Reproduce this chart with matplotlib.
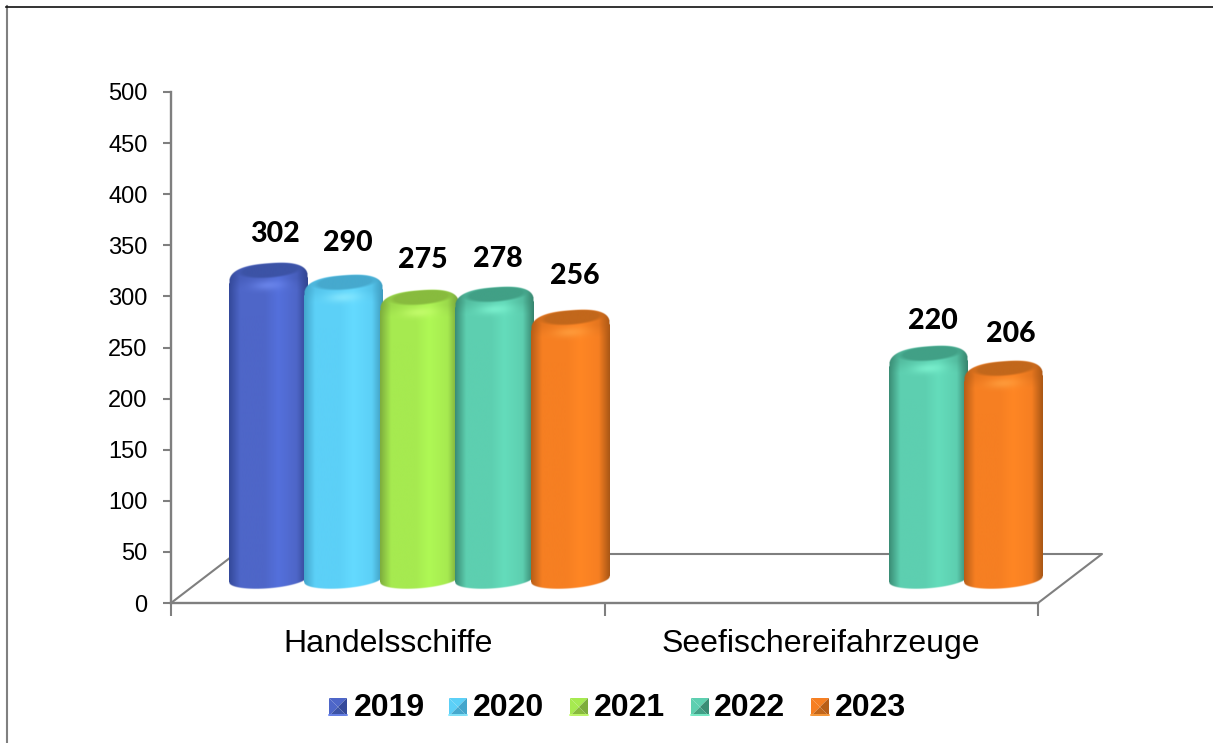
import numpy as np
import matplotlib
matplotlib.use("Agg")
import matplotlib.pyplot as plt
from matplotlib.patches import Polygon

W, H = 1213, 743

categories = ["Handelsschiffe", "Seefischereifahrzeuge"]
years = ["2019", "2020", "2021", "2022", "2023"]
v2019 = [302, None]
v2020 = [290, None]
v2021 = [275, None]
v2022 = [278, 220]
v2023 = [256, 206]
series = [v2019, v2020, v2021, v2022, v2023]
yticks = [0, 50, 100, 150, 200, 250, 300, 350, 400, 450, 500]

# dark edge, middle, bright, cap, highlight
colors = [
    ["#34499a", "#4e66c8", "#5470dc", "#3c53a6", "#6f8af0"],
    ["#43a6cc", "#5cd0f7", "#64daff", "#46a9ce", "#8ceaff"],
    ["#7dad3d", "#a6ea50", "#aff855", "#88bb3e", "#c8ff70"],
    ["#3a8d75", "#5dcfb0", "#64dcbb", "#41a086", "#7ff5d2"],
    ["#b85e17", "#f67f22", "#ff8624", "#c2671b", "#ffa040"],
]

# label shifts (x in axis units, y in values)
label_dx = [[0.017, None], [0.010, None], [0.009, None], [0.009, 0.012], [0.011, 0.017]]
label_dy = [[59, None], [62, None], [61, None], [59, 56], [64, 57]]

bar_w = 0.18
bar_step = 0.174
group_shift = 0.0715
sx = 867 / 2
sy = 511 / 500


def hex_rgb(c):
    return np.array(matplotlib.colors.to_rgb(c))


def cylinder(ax, xc, value, cols):
    # pixel sized picture of one 3D bar, 2 samples per pixel
    w_px = bar_w * sx
    base = 12.0
    shoulder = (value + 14) * sy
    top = shoulder + 18
    nx, ny = int(w_px * 2), int((top - base + 4) * 2)
    t = np.linspace(-1, 1, nx)
    y = np.linspace(base - 2, top + 2, ny)
    tt, yy = np.meshgrid(t, y)

    stops = [-1, -0.72, -0.1, 0.25, 0.72, 1]
    dark, mid, bright, cap, hi = [hex_rgb(c) for c in cols]
    ramp = [dark, mid, mid, bright, mid, dark * 0.92]
    rgb = np.zeros((ny, nx, 3))
    for i in range(3):
        rgb[..., i] = np.interp(tt, stops, [c[i] for c in ramp])

    # soft highlight under the cap
    glow = np.exp(-(tt / 0.42) ** 2 - ((yy - shoulder + 5 - 2 * tt) / 5.0) ** 2) * 0.75
    # shaded band at the shoulder
    band = np.clip((yy - shoulder + 10) / 12, 0, 1) * np.abs(tt) ** 1.5 * 0.45
    for i in range(3):
        rgb[..., i] = rgb[..., i] * (1 - band) + dark[i] * band
        rgb[..., i] = rgb[..., i] * (1 - glow) + hi[i] * glow

    # darker top face
    face = ((tt - 0.04) / 0.8) ** 2 + ((yy - shoulder - 10 - 3 * tt) / 7.5) ** 2
    face = np.clip((1.2 - face) / 0.5, 0, 1)
    for i in range(3):
        rgb[..., i] = rgb[..., i] * (1 - face) + cap[i] * face

    # outline of the bar
    upper = shoulder + 17 * (1 - np.abs(tt) ** 2.6) ** (1 / 2.6) + 3 * tt
    lower = 23.5 - 9 * np.sqrt(1 - tt ** 2) + 3 * tt
    alpha = np.clip(upper - yy + 0.5, 0, 1) * np.clip(yy - lower + 0.5, 0, 1)
    img = np.dstack([rgb, alpha])
    ax.imshow(img, origin="lower", aspect="auto", interpolation="bilinear", zorder=3,
              extent=[xc - bar_w / 2, xc + bar_w / 2, (base - 2) / sy, (top + 2) / sy],
              clip_on=False)


fig = plt.figure(figsize=(W / 100, H / 100), dpi=100)
ax = fig.add_axes([171 / W, 1 - 603 / H, 867 / W, 511 / H])

grey = "#7f7f7f"
for i, vals in enumerate(series):
    for j, v in enumerate(vals):
        if v is None:
            continue
        xc = j + 0.5 + group_shift + (i - 2) * bar_step
        cylinder(ax, xc, v, colors[i])
        ax.text(xc + label_dx[i][j], v + label_dy[i][j], str(v), family="Lato",
                fontweight="black", fontsize=20.5, ha="center", va="center", zorder=5)

# floor of the 3D box
dx, dy = 64 / sx, 49 / sy
ax.plot([0, dx, 2 + dx, 2], [0, dy, dy, 0], color=grey, lw=1.5, clip_on=False, zorder=1)

ax.set_xlim(0, 2)
ax.set_ylim(0, 500)
ax.patch.set_visible(False)
for s in ["top", "right"]:
    ax.spines[s].set_visible(False)
for s in ["left", "bottom"]:
    ax.spines[s].set_color(grey)
    ax.spines[s].set_linewidth(1.7)
ax.set_yticks(yticks)
ax.set_yticklabels([str(v) for v in yticks], family="Liberation Sans", fontsize=17)
ax.set_xticks([0, 1, 2])
ax.set_xticklabels([])
ax.set_xticks([0.5, 1.5], minor=True)
ax.set_xticklabels(categories, minor=True, family="Liberation Sans", fontsize=23)
ax.tick_params(axis="y", length=6, width=1.5, color=grey, pad=11)
ax.tick_params(axis="x", which="major", length=9, width=1.5, color=grey)
ax.tick_params(axis="x", which="minor", length=0, pad=19)

# page overlay in pixels: frame and legend
page = fig.add_axes([0, 0, 1, 1], zorder=6)
page.set_xlim(0, W)
page.set_ylim(H, 0)
page.axis("off")
page.plot([6.5, 6.5], [6, H], color="#808080", lw=1.5)
page.plot([6, W], [6.5, 6.5], color="#111111", lw=1.2)

marker_x = [329, 449, 570, 691, 811]
text_x = [354, 473, 594, 714, 835]
for i, yr in enumerate(years):
    x0, x1, y0, y1 = marker_x[i], marker_x[i] + 18, 698, 716
    cx, cy = x0 + 9, (y0 + y1) / 2
    dark, mid, bright, cap, hi = colors[i]
    page.add_patch(Polygon([(x0, y0), (x1, y0), (cx, cy)], color=mid, lw=0))
    page.add_patch(Polygon([(x0, y0), (x0, y1), (cx, cy)], color=mid, lw=0))
    page.add_patch(Polygon([(x1, y0), (x1, y1), (cx, cy)], color=dark, lw=0))
    page.add_patch(Polygon([(x0, y1), (x1, y1), (cx, cy)], color=cap, lw=0))
    page.plot([x0, x1], [y1 - 1, y1 - 1], color=hi, lw=1.2)
    page.text(text_x[i], 707.5, yr, family="Liberation Sans", fontweight="bold",
              fontsize=23, ha="left", va="center")

fig.savefig("out.png", dpi=100, facecolor="white")
